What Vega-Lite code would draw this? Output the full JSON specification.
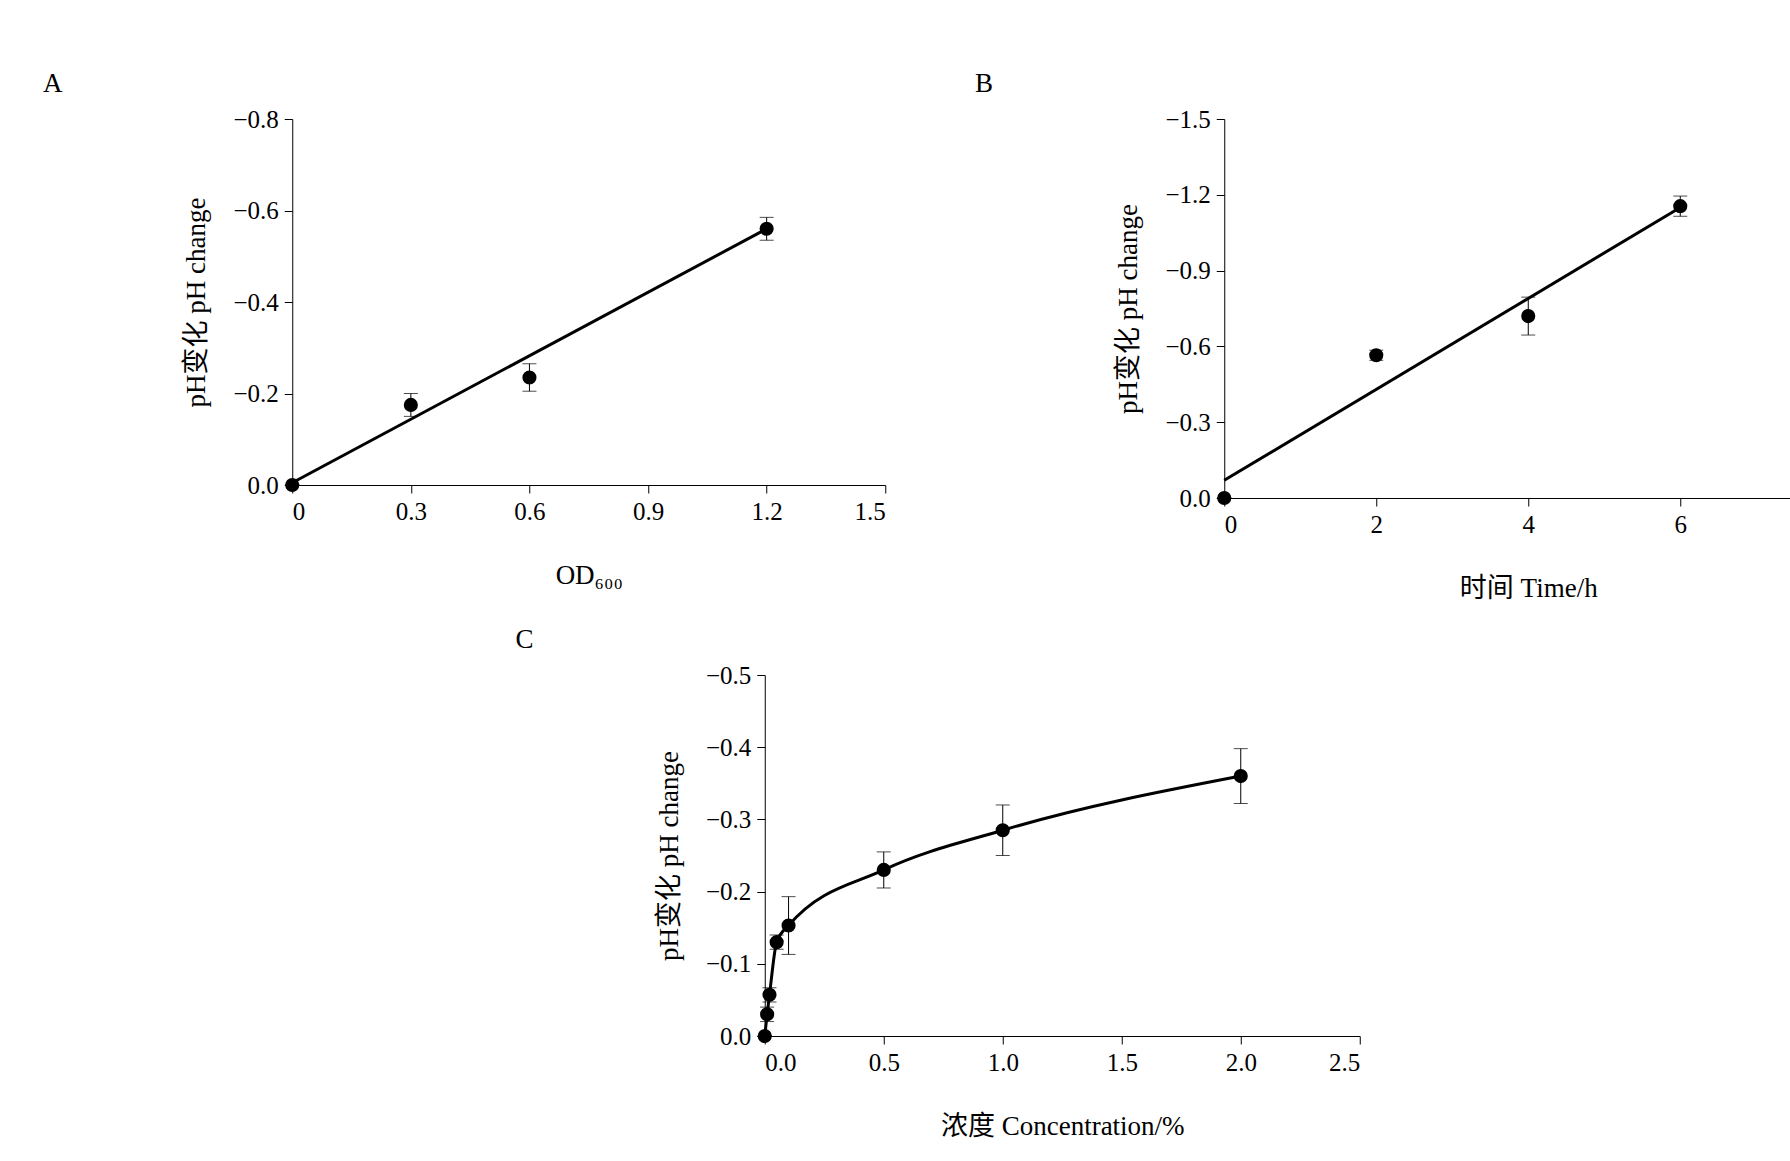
{
  "$schema": "https://vega.github.io/schema/vega-lite/v6.json",
  "padding": {"left": 42, "top": 70, "right": 10, "bottom": 10},
  "background": "white",
  "config": {
    "font": "Liberation Serif",
    "view": {"stroke": null},
    "axis": {"grid": false, "domainColor": "black", "tickColor": "black", "labelColor": "black", "titleColor": "black",
      "labelFont": "Liberation Serif", "titleFont": "Liberation Serif, Noto Sans CJK SC", "labelFontSize": 25, "titleFontSize": 27,
      "titleFontWeight": "normal", "tickSize": 8, "labelPadding": 6},
    "axisY": {"labelExpr": "replace(datum.label, '-', '\u2212')", "titlePadding": 22},
    "axisX": {"titlePadding": 38},
    "title": {"font": "Liberation Serif", "fontSize": 27, "fontWeight": "normal", "anchor": "start", "color": "black"}
  },
  "datasets": {
    "a": [
      {"x": 0, "y": 0, "lo": 0, "hi": 0},
      {"x": 0.3, "y": -0.175, "lo": -0.15, "hi": -0.2},
      {"x": 0.6, "y": -0.235, "lo": -0.205, "hi": -0.265},
      {"x": 1.2, "y": -0.56, "lo": -0.535, "hi": -0.585}
    ],
    "afit": [{"x": 0, "y": -0.005}, {"x": 1.2, "y": -0.56}],
    "b": [
      {"x": 0, "y": 0, "lo": 0, "hi": 0},
      {"x": 2, "y": -0.565, "lo": -0.545, "hi": -0.585},
      {"x": 4, "y": -0.72, "lo": -0.645, "hi": -0.795},
      {"x": 6, "y": -1.155, "lo": -1.115, "hi": -1.195}
    ],
    "bfit": [{"x": 0, "y": -0.07}, {"x": 6, "y": -1.15}],
    "c": [
      {"x": 0, "y": 0, "lo": 0, "hi": 0},
      {"x": 0.01, "y": -0.03, "lo": -0.02, "hi": -0.04},
      {"x": 0.02, "y": -0.057, "lo": -0.047, "hi": -0.067},
      {"x": 0.05, "y": -0.13, "lo": -0.12, "hi": -0.14},
      {"x": 0.1, "y": -0.153, "lo": -0.113, "hi": -0.193},
      {"x": 0.5, "y": -0.23, "lo": -0.205, "hi": -0.255},
      {"x": 1, "y": -0.285, "lo": -0.25, "hi": -0.32},
      {"x": 2, "y": -0.36, "lo": -0.322, "hi": -0.398}
    ]
  },
  "vconcat": [
    {
      "hconcat": [
        {
          "title": {"text": "A", "dx": -140, "dy": -5},
          "width": 593, "height": 366,
          "encoding": {
            "x": {"type": "quantitative", "title": "OD₆₀₀", "scale": {"domain": [0, 1.5]}, "axis": {"values": [0, 0.3, 0.6, 0.9, 1.2, 1.5], "format": "~g"}},
            "y": {"type": "quantitative", "title": "pH变化 pH change", "scale": {"domain": [-0.8, 0], "reverse": true}, "axis": {"values": [0, -0.2, -0.4, -0.6, -0.8], "format": ".1f"}}
          },
          "layer": [
            {"data": {"name": "afit"}, "mark": {"type": "line", "color": "black", "strokeWidth": 3},
              "encoding": {"x": {"field": "x"}, "y": {"field": "y"}}},
            {"data": {"name": "a"}, "mark": {"type": "errorbar", "ticks": {"size": 14, "color": "black"}, "color": "black", "thickness": 1},
              "encoding": {"x": {"field": "x"}, "y": {"field": "lo"}, "y2": {"field": "hi"}}},
            {"data": {"name": "a"}, "mark": {"type": "point", "filled": true, "color": "black", "opacity": 1, "size": 200},
              "encoding": {"x": {"field": "x"}, "y": {"field": "y"}}}
          ]
        },
        {
          "title": {"text": "B", "dx": -140, "dy": -5},
          "width": 608, "height": 379,
          "encoding": {
            "x": {"type": "quantitative", "title": "时间 Time/h", "scale": {"domain": [0, 8]}, "axis": {"values": [0, 2, 4, 6, 8], "format": "d"}},
            "y": {"type": "quantitative", "title": "pH变化 pH change", "scale": {"domain": [-1.5, 0], "reverse": true}, "axis": {"values": [0, -0.3, -0.6, -0.9, -1.2, -1.5], "format": ".1f"}}
          },
          "layer": [
            {"data": {"name": "bfit"}, "mark": {"type": "line", "color": "black", "strokeWidth": 3},
              "encoding": {"x": {"field": "x"}, "y": {"field": "y"}}},
            {"data": {"name": "b"}, "mark": {"type": "errorbar", "ticks": {"size": 14, "color": "black"}, "color": "black", "thickness": 1},
              "encoding": {"x": {"field": "x"}, "y": {"field": "lo"}, "y2": {"field": "hi"}}},
            {"data": {"name": "b"}, "mark": {"type": "point", "filled": true, "color": "black", "opacity": 1, "size": 200},
              "encoding": {"x": {"field": "x"}, "y": {"field": "y"}}}
          ]
        }
      ],
      "spacing": 88
    },
    {
      "title": {"text": "C", "dx": -140, "dy": -5},
      "width": 595, "height": 361,
      "encoding": {
        "x": {"type": "quantitative", "title": "浓度 Concentration/%", "scale": {"domain": [0, 2.5]}, "axis": {"values": [0, 0.5, 1, 1.5, 2, 2.5], "format": ".1f"}},
        "y": {"type": "quantitative", "title": "pH变化 pH change", "scale": {"domain": [-0.5, 0], "reverse": true}, "axis": {"values": [0, -0.1, -0.2, -0.3, -0.4, -0.5], "format": ".1f"}}
      },
      "layer": [
        {"data": {"name": "c"}, "mark": {"type": "line", "color": "black", "strokeWidth": 3, "interpolate": "monotone"},
          "encoding": {"x": {"field": "x"}, "y": {"field": "y"}}},
        {"data": {"name": "c"}, "mark": {"type": "errorbar", "ticks": {"size": 14, "color": "black"}, "color": "black", "thickness": 1},
          "encoding": {"x": {"field": "x"}, "y": {"field": "lo"}, "y2": {"field": "hi"}}},
        {"data": {"name": "c"}, "mark": {"type": "point", "filled": true, "color": "black", "opacity": 1, "size": 200},
          "encoding": {"x": {"field": "x"}, "y": {"field": "y"}}}
      ]
    }
  ],
  "center": true,
  "spacing": 25
}
